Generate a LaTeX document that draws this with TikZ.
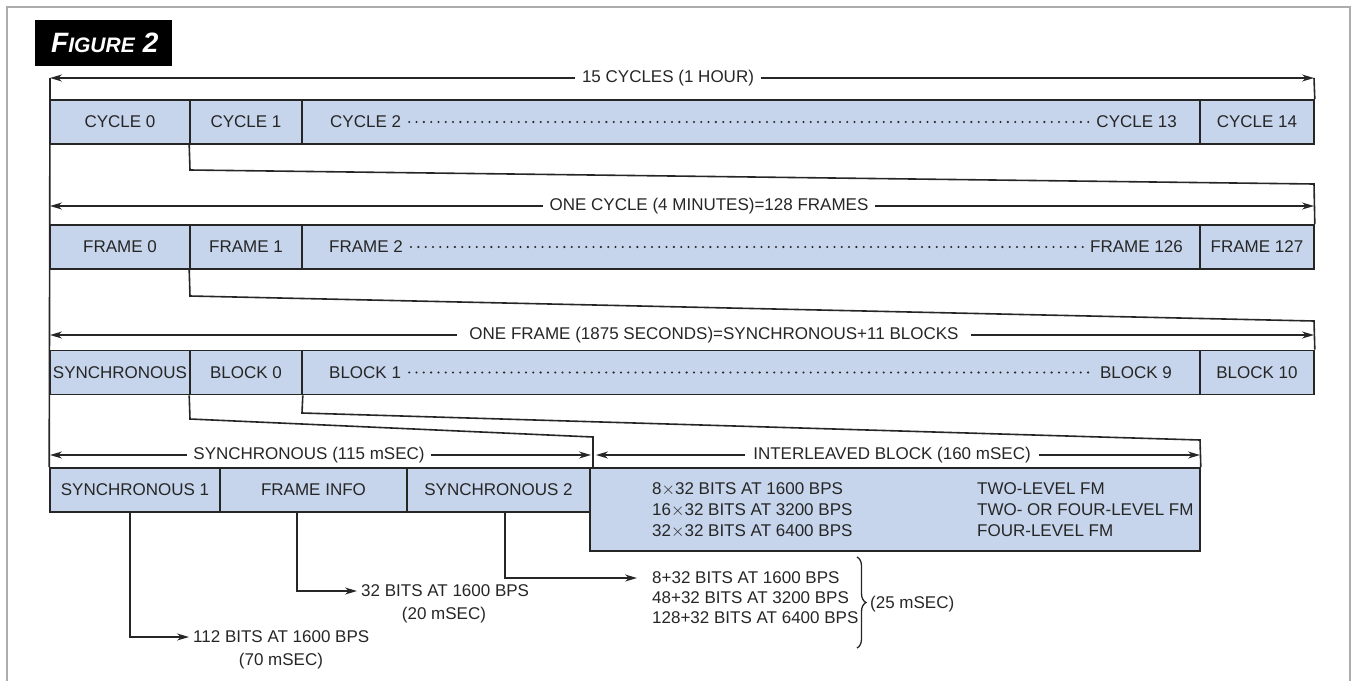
\documentclass[tikz,border=0pt]{standalone}
\usepackage{fontspec}
\setmainfont{Liberation Sans}
\usetikzlibrary{arrows.meta,decorations.pathreplacing}
\definecolor{cellblue}{RGB}{198,213,236}
\definecolor{ink}{RGB}{38,38,38}
\begin{document}
\begin{tikzpicture}[x=1pt,y=-1pt,
  every node/.style={text=ink},
  txt/.style={inner sep=0pt, font=\fontsize{17}{21}\selectfont},
  cell/.style={draw=ink, fill=cellblue, line width=1.6pt, inner sep=0pt, minimum height=44pt, font=\fontsize{17}{21}\selectfont},
  ln/.style={draw=ink, line width=1.6pt},
  tip/.style={-{Stealth[length=12pt,width=7pt]}},
  dimline/.style={ln, {Stealth[length=12pt,width=7pt]}-{Stealth[length=12pt,width=7pt]}},
  lab/.style={fill=white, inner xsep=7pt, inner ysep=1pt, font=\fontsize{17}{21}\selectfont},
  dotrow/.style={draw=ink, line width=2.3pt, line cap=round, dash pattern=on 0pt off 7.3pt, shorten <=8pt, shorten >=5pt}
]
\useasboundingbox (0,0) rectangle (1355,681);
% outer frame
\coordinate (fr1) at (7,681); \coordinate (fr2) at (7,7);
\coordinate (fr3) at (1350,7); \coordinate (fr4) at (1350,681);
\draw[gray!65, line width=2pt] (fr1) -- (fr2) -- (fr3) -- (fr4);
% figure label
\node[fill=black, minimum width=137pt, minimum height=46pt, anchor=north west, inner sep=0pt] (figbox) at (35,20) {};
\node[anchor=west, inner sep=0pt, text=white, font=\bfseries\itshape] (figlbl) at (51,43) {{\fontsize{28}{28}\selectfont F}{\fontsize{21}{21}\selectfont IGURE}\hspace{8pt}{\fontsize{28}{28}\selectfont 2}};

% ---------- row 1: cycles
\node[cell, minimum width=140pt] (c0) at (120,122) {CYCLE 0};
\node[cell, minimum width=112pt] (c1) at (246,122) {CYCLE 1};
\node[cell, minimum width=898pt] (cm) at (751,122) {};
\node[cell, minimum width=114pt] (c14) at (1257,122) {CYCLE 14};
\node[txt, anchor=west] (c2t) at (330,122) {CYCLE 2};
\node[txt, anchor=east] (c13t) at (1177,122) {CYCLE 13};
\draw[dotrow] (c2t.east) -- (c13t.west);

\coordinate (a1l) at (50,78); \coordinate (a1r) at (1314,78);
\draw[dimline] (a1l) -- (a1r);
\node[lab] (l1) at (668,78) {15 CYCLES (1 HOUR)};
\draw[ln] (a1r) -- (c14.north east);

% ---------- row 2: frames
\node[cell, minimum width=140pt] (f0) at (120,247) {FRAME 0};
\node[cell, minimum width=112pt] (f1) at (246,247) {FRAME 1};
\node[cell, minimum width=898pt] (fm) at (751,247) {};
\node[cell, minimum width=114pt] (f127) at (1257,247) {FRAME 127};
\node[txt, anchor=west] (f2t) at (329,247) {FRAME 2};
\node[txt, anchor=east] (f126t) at (1183,247) {FRAME 126};
\draw[dotrow] (f2t.east) -- (f126t.west);

\coordinate (a2l) at (50,206); \coordinate (a2r) at (1314,206);
\draw[dimline] (a2l) -- (a2r);
\node[lab] (l2) at (709,206) {ONE CYCLE (4 MINUTES)=128 FRAMES};

\coordinate (k1a) at (190,170); \coordinate (k1b) at (1314,184);
\draw[ln] (c1.south west) -- (k1a) -- (k1b) -- (f127.north east);

% ---------- row 3: blocks
\node[cell, minimum width=140pt] (sy) at (120,372.5) {SYNCHRONOUS};
\node[cell, minimum width=112pt] (b0) at (246,372.5) {BLOCK 0};
\node[cell, minimum width=898pt] (bm) at (751,372.5) {};
\node[cell, minimum width=114pt] (b10) at (1257,372.5) {BLOCK 10};
\node[txt, anchor=west] (b1t) at (329,372.5) {BLOCK 1};
\node[txt, anchor=east] (b9t) at (1172,372.5) {BLOCK 9};
\draw[dotrow] (b1t.east) -- (b9t.west);

\coordinate (a3l) at (50,335); \coordinate (a3r) at (1314,335);
\draw[dimline] (a3l) -- (a3r);
\node[lab, inner xsep=12pt] (l3) at (714,335) {ONE FRAME (1875 SECONDS)=SYNCHRONOUS+11 BLOCKS};

\coordinate (k2a) at (190,296); \coordinate (k2b) at (1314,321);
\draw[ln] (f1.south west) -- (k2a) -- (k2b) -- (b10.north east);

% ---------- row 4: synchronous + interleaved
\node[cell, minimum width=170pt] (s1) at (135,490) {SYNCHRONOUS 1};
\node[cell, minimum width=187pt] (fi) at (313.5,490) {FRAME INFO};
\node[cell, minimum width=183pt] (s2) at (498.5,490) {SYNCHRONOUS 2};
\node[cell, minimum width=610pt, minimum height=83pt] (ib) at (895,509.5) {};
\node[txt, anchor=west, align=left] (ibl) at (652,510) {8$\times$32 BITS AT 1600 BPS\\16$\times$32 BITS AT 3200 BPS\\32$\times$32 BITS AT 6400 BPS};
\node[txt, anchor=west, align=left] (ibr) at (977,510) {TWO-LEVEL FM\\TWO- OR FOUR-LEVEL FM\\FOUR-LEVEL FM};

% left spine
\draw[ln] (a1l) -- (s1.north west);

\coordinate (a4l) at (50,455); \coordinate (a4r) at (591,455);
\draw[dimline] (a4l) -- (a4r);
\node[lab, inner xsep=6pt] (l4) at (309,455) {SYNCHRONOUS (115 mSEC)};
\coordinate (a5l) at (596,455); \coordinate (a5r) at (1200,455);
\draw[dimline] (a5l) -- (a5r);
\node[lab, inner xsep=8pt] (l5) at (892,455) {INTERLEAVED BLOCK (160 mSEC)};

\coordinate (k3a) at (190,419); \coordinate (k3b) at (593,437); \coordinate (k3c) at (593,468);
\draw[ln] (b0.south west) -- (k3a) -- (k3b) -- (k3c);
\coordinate (k4a) at (302,413); \coordinate (k4b) at (1200,440);
\draw[ln] (b0.south east) -- (k4a) -- (k4b) -- (ib.north east);

% ---------- bottom annotations
\node[txt, anchor=west] (t1a) at (193,637) {112 BITS AT 1600 BPS};
\node[txt] (t1b) at (281,661) {(70 mSEC)};
\coordinate (d1) at (130,637);
\draw[ln, tip] ([xshift=-5pt]s1.south) -- (d1) -- ([xshift=-4pt]t1a.west);

\node[txt, anchor=west] (t2a) at (361,591) {32 BITS AT 1600 BPS};
\node[txt] (t2b) at (444,615) {(20 mSEC)};
\coordinate (d2) at (297,591);
\draw[ln, tip] ([xshift=-16.5pt]fi.south) -- (d2) -- ([xshift=-4pt]t2a.west);

\node[txt, anchor=west] (t3a) at (652,578) {8+32 BITS AT 1600 BPS};
\node[txt, anchor=west] (t3b) at (652,598) {48+32 BITS AT 3200 BPS};
\node[txt, anchor=west] (t3c) at (652,618) {128+32 BITS AT 6400 BPS};
\coordinate (d3) at (505,578);
\draw[ln, tip] ([xshift=6.5pt]s2.south) -- (d3) -- ([xshift=-15pt]t3a.west);

\coordinate (br1) at (857,557); \coordinate (br2) at (857,648);
\draw[ink, line width=1.3pt, decorate, decoration={brace, amplitude=9pt}] (br1) -- (br2);
\node[txt, anchor=west] (t25) at (870,604) {(25 mSEC)};
\end{tikzpicture}
\end{document}
